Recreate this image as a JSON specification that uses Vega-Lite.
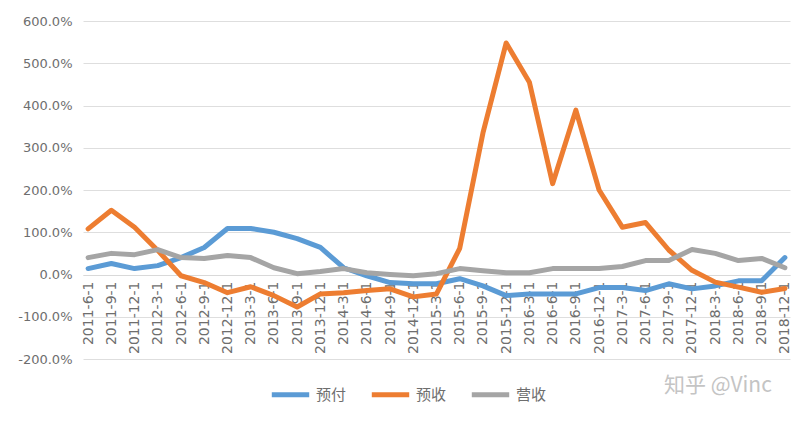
{
  "$schema": "https://vega.github.io/schema/vega-lite/v6.json",
  "width": 707,
  "height": 338,
  "autosize": {"type": "none"},
  "padding": {"left": 83, "top": 21, "right": 20, "bottom": 63},
  "background": "white",
  "config": {
    "view": {"stroke": null},
    "font": "DejaVu Sans"
  },
  "title": {
    "text": "知乎 @Vinc",
    "orient": "bottom",
    "anchor": "end",
    "fontSize": 21,
    "fontWeight": "normal",
    "color": "#c4c4c4",
    "font": "Noto Sans CJK SC",
    "offset": 14,
    "dx": -20,
    "dy": -44
  },
  "datasets": {
    "rows": [
      {"date": "2011-6-1", "预付": 14, "预收": 108, "营收": 40},
      {"date": "2011-9-1", "预付": 26, "预收": 152, "营收": 50},
      {"date": "2011-12-1", "预付": 14, "预收": 112, "营收": 47},
      {"date": "2012-3-1", "预付": 21, "预收": 57, "营收": 59},
      {"date": "2012-6-1", "预付": 40, "预收": -3, "营收": 40},
      {"date": "2012-9-1", "预付": 64, "预收": -19, "营收": 38},
      {"date": "2012-12-1", "预付": 109, "预收": -43, "营收": 45},
      {"date": "2013-3-1", "预付": 109, "预收": -29, "营收": 40},
      {"date": "2013-6-1", "预付": 100, "预收": -50, "营收": 16},
      {"date": "2013-9-1", "预付": 85, "预收": -77, "营收": 2},
      {"date": "2013-12-1", "预付": 64, "预收": -46, "营收": 7},
      {"date": "2014-3-1", "预付": 16, "预收": -43, "营收": 14},
      {"date": "2014-6-1", "预付": -3, "预收": -38, "营收": 4},
      {"date": "2014-9-1", "预付": -19, "预收": -34, "营收": 0},
      {"date": "2014-12-1", "预付": -22, "预收": -53, "营收": -3},
      {"date": "2015-3-1", "预付": -22, "预收": -46, "营收": 2},
      {"date": "2015-6-1", "预付": -10, "预收": 62, "营收": 14},
      {"date": "2015-9-1", "预付": -27, "预收": 335, "营收": 9},
      {"date": "2015-12-1", "预付": -50, "预收": 548, "营收": 4},
      {"date": "2016-3-1", "预付": -46, "预收": 455, "营收": 4},
      {"date": "2016-6-1", "预付": -46, "预收": 215, "营收": 14},
      {"date": "2016-9-1", "预付": -46, "预收": 389, "营收": 14},
      {"date": "2016-12-1", "预付": -31, "预收": 200, "营收": 14},
      {"date": "2017-3-1", "预付": -31, "预收": 112, "营收": 19},
      {"date": "2017-6-1", "预付": -38, "预收": 123, "营收": 33},
      {"date": "2017-9-1", "预付": -22, "预收": 58, "营收": 33},
      {"date": "2017-12-1", "预付": -34, "预收": 10, "营收": 59},
      {"date": "2018-3-1", "预付": -27, "预收": -18, "营收": 50},
      {"date": "2018-6-1", "预付": -15, "预收": -30, "营收": 33},
      {"date": "2018-9-1", "预付": -15, "预收": -42, "营收": 38},
      {"date": "2018-12-1", "预付": 40, "预收": -33, "营收": 16}
    ]
  },
  "data": {"name": "rows"},
  "transform": [
    {"fold": ["预付", "预收", "营收"], "as": ["series", "value"]}
  ],
  "mark": {"type": "line", "strokeWidth": 5, "strokeCap": "round", "strokeJoin": "round"},
  "encoding": {
    "x": {
      "field": "date",
      "type": "ordinal",
      "sort": null,
      "scale": {"type": "point", "padding": 0.22},
      "axis": {
        "title": null,
        "orient": "bottom",
        "offset": -84,
        "labelAngle": -90,
        "labelFontSize": 14,
        "labelColor": "#6e6e6e",
        "labelPadding": 6,
        "ticks": false,
        "domain": true,
        "domainColor": "#d9d9d9",
        "grid": false
      }
    },
    "y": {
      "field": "value",
      "type": "quantitative",
      "scale": {"domain": [-200, 600], "nice": false, "zero": false},
      "axis": {
        "title": null,
        "values": [-200, -100, 0, 100, 200, 300, 400, 500, 600],
        "labelExpr": "(datum.value < 0 ? '-' : '') + format(abs(datum.value), '.1f') + '%'",
        "labelFontSize": 13,
        "labelColor": "#6e6e6e",
        "labelPadding": 11,
        "ticks": false,
        "domain": false,
        "grid": true,
        "gridColor": "#dedede",
        "gridWidth": 1
      }
    },
    "color": {
      "field": "series",
      "type": "nominal",
      "scale": {"domain": ["预付", "预收", "营收"], "range": ["#5B9BD5", "#ED7D31", "#A5A5A5"]},
      "legend": {
        "title": null,
        "orient": "none",
        "direction": "horizontal",
        "legendX": 186,
        "legendY": 352,
        "symbolType": "stroke",
        "symbolSize": 1400,
        "symbolStrokeWidth": 5,
        "labelFontSize": 15,
        "labelFont": "Noto Sans CJK SC",
        "labelColor": "#6e6e6e",
        "labelOffset": 4,
        "columnPadding": 14
      }
    }
  }
}
